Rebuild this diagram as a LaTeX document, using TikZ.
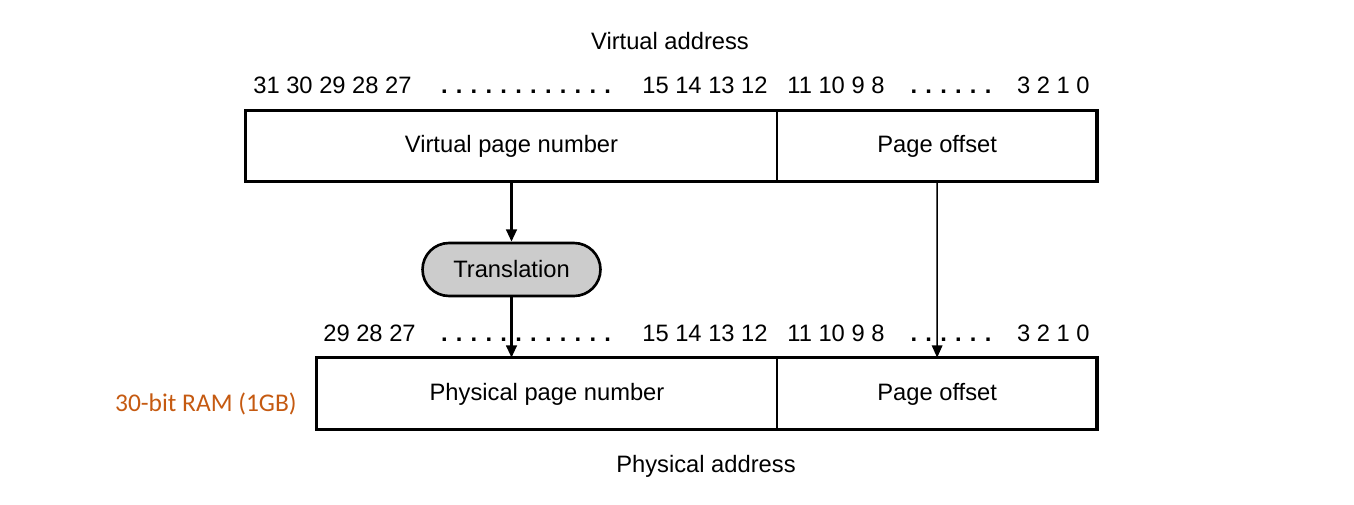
\documentclass[tikz,border=0pt]{standalone}
\usepackage{fontspec}
\setmainfont{Liberation Sans}
\newfontfamily\calibri{Carlito}
\usetikzlibrary{arrows.meta,positioning}
\definecolor{ramorange}{HTML}{C55A11}
\newcommand\dotrun[1]{\textbf{.}\foreach \i in {2,...,#1}{\hspace{4.7pt}\textbf{.}}}

\begin{document}
\begin{tikzpicture}[
        x=0.02cm, y=-0.02cm,
        every node/.style={font=\fontsize{13.5}{16}\selectfont, inner sep=0pt},
        field/.style={minimum height=1.4cm, text height=1.5ex, text depth=0pt},
        bits/.style={anchor=base},
        frame/.style={black, line width=1.8pt},
        split/.style={black, line width=1pt},
        lookup/.style={draw, line width=1.5pt, fill=black!20,
            rounded corners=0.53cm, minimum width=3.56cm, minimum height=1.06cm},
        flow/.style={-{Triangle[length=7pt,width=6pt]}, line width=1.5pt},
        thinflow/.style={-{Triangle[length=7pt,width=6pt]}, line width=0.9pt},
    ]
    \useasboundingbox (0,0) rectangle (1354,504);
    % virtual address
    \node[anchor=base] (vaddr) at (670,49) {Virtual address};
    \node[bits, anchor=base west] (vhi) at (253,93) {31 30 29 28 27};
    \node[bits] (vdots) at (526,93) {\dotrun{12}};
    \node[bits, anchor=base east] (vmid) at (768,93) {15 14 13 12};
    \node[bits, anchor=base west] (vlo) at (787,93) {11 10 9 8};
    \node[bits] (vodots) at (951,93) {\dotrun{6}};
    \node[bits, anchor=base east] (vend) at (1090,93) {3 2 1 0};
    \node[field, minimum width=10.62cm] (vpn) at (511.5,146) {Virtual page number};
    \node[field, minimum width=6.38cm, right=0pt of vpn] (voff) {Page offset};
    \draw[frame] (vpn.north west) rectangle (voff.south east);
    \draw[split] (vpn.north east) -- (vpn.south east);
    % translation
    \node[lookup] (trans) at (511.5,269.5) {Translation};
    % physical address
    \node[bits, anchor=base west] (phi) at (323,341) {29 28 27};
    \node[bits] (pdots) at (526,341) {\dotrun{12}};
    \node[bits, anchor=base east] (pmid) at (768,341) {15 14 13 12};
    \node[bits, anchor=base west] (plo) at (787,341) {11 10 9 8};
    \node[bits] (podots) at (951,341) {\dotrun{6}};
    \node[bits, anchor=base east] (pend) at (1090,341) {3 2 1 0};
    \node[field, minimum height=1.42cm, minimum width=9.2cm] (ppn) at (547,393.5) {Physical page number};
    \node[field, minimum height=1.42cm, minimum width=6.38cm, right=0pt of ppn] (poff) {Page offset};
    \draw[frame] (ppn.north west) rectangle (poff.south east);
    \draw[split] (ppn.north east) -- (ppn.south east);
    \node[anchor=base] (paddr) at (706,472) {Physical address};
    \node[font=\calibri\fontsize{14.5}{17}\selectfont, text=ramorange,
        anchor=base east] (ram) at (297,411) {30-bit RAM (1GB)};
    % arrows
    \draw[flow] (vpn.south) -- (trans.north);
    \draw[flow] (trans.south) -- (trans.south |- ppn.north);
    \draw[thinflow] (voff.south) -- (poff.north);
\end{tikzpicture}
\end{document}
